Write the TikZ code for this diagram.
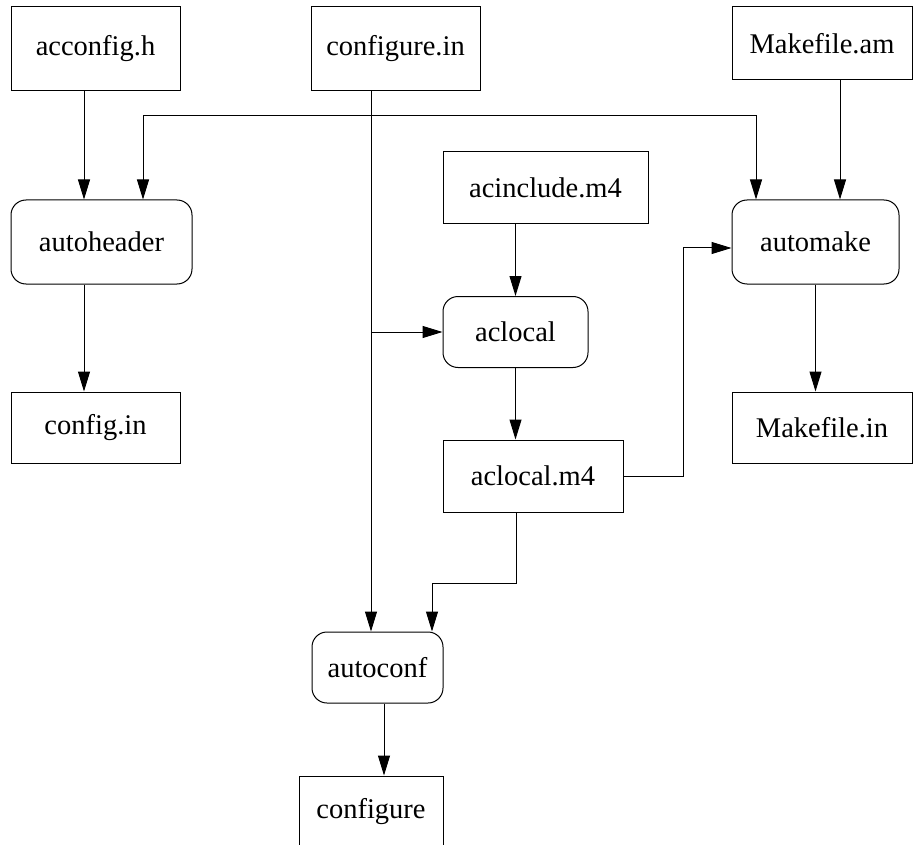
\documentclass[tikz,border=0pt]{standalone}
\usepackage{fontspec}
\setmainfont{Liberation Serif}
\usetikzlibrary{arrows.meta}
\tikzset{
  filebox/.style={draw, line width=1pt, inner sep=0pt, font=\fontsize{28.5}{34}\selectfont},
  toolbox/.style={filebox, rounded corners=15pt},
  arr/.style={line width=1pt, -{Triangle[length=20pt,width=12pt]}},
  ln/.style={line width=1pt}
}
\begin{document}
\begin{tikzpicture}[x=1pt,y=-1pt]
\useasboundingbox (0,0) rectangle (913,845);
\node[filebox, minimum width=169pt, minimum height=84pt] (acconfig) at (95.5,49) {acconfig.h};
\node[filebox, minimum width=169pt, minimum height=84pt] (configin) at (395.5,49) {configure.in};
\node[filebox, minimum width=180pt, minimum height=73pt] (makeam) at (822,43.5) {Makefile.am};
\node[toolbox, minimum width=181pt, minimum height=84pt] (autoheader) at (101.5,242) {autoheader};
\node[filebox, minimum width=205pt, minimum height=72pt] (acinclude) at (545.5,188) {acinclude.m4};
\node[toolbox, minimum width=167pt, minimum height=84pt] (automake) at (815.5,242) {automake};
\node[toolbox, minimum width=145pt, minimum height=71pt] (aclocal) at (515.5,332) {aclocal};
\node[filebox, minimum width=169pt, minimum height=71pt] (configdotin) at (95.5,427.5) {config.in};
\node[filebox, minimum width=180pt, minimum height=71pt] (makein) at (822,427.5) {Makefile.in};
\node[filebox, minimum width=180pt, minimum height=72pt] (aclocalm4) at (533,476) {aclocal.m4};
\node[toolbox, minimum width=131pt, minimum height=71pt] (autoconf) at (377.5,667.5) {autoconf};
\node[filebox, minimum width=144pt, minimum height=72pt] (configure) at (371,812) {configure};
% column / junction coordinates
\coordinate (xA) at (84,0);
\coordinate (xB) at (143,0);
\coordinate (xC) at (371,0);
\coordinate (xE) at (756,0);
\coordinate (xF) at (840,0);
\coordinate (xH) at (683,0);
\coordinate (xI) at (432,0);
\coordinate (xJ) at (384,0);
\coordinate (xD) at (516,0);
\coordinate (jtop) at (371,116);
\coordinate (jmid) at (xC |- aclocal.west);
\coordinate (jlow) at (516,583);
\coordinate (amin) at ([yshift=-6pt]automake.west);
% edges
\draw[arr] (acconfig.south -| xA) -- (autoheader.north -| xA);
\draw[arr] (autoheader.south -| xA) -- (configdotin.north -| xA);
\draw[arr] (configin.south -| xC) -- (autoconf.north -| xC);
\draw[arr] (jtop) -| (autoheader.north -| xB);
\draw[arr] (jtop) -| (automake.north -| xE);
\draw[arr] (jmid) -- (aclocal.west);
\draw[arr] (acinclude.south -| aclocal.north) -- (aclocal.north);
\draw[arr] (aclocal.south) -- (aclocalm4.north -| aclocal.south);
\draw[arr] (aclocalm4.east) -- (aclocalm4.east -| xH) -- (xH |- amin) -- (amin);
\draw[arr] (aclocalm4.south -| xD) -- (jlow) -- (jlow -| xI) -- (autoconf.north -| xI);
\draw[arr] (makeam.south -| xF) -- (automake.north -| xF);
\draw[arr] (automake.south) -- (makein.north -| automake.south);
\draw[arr] (autoconf.south -| xJ) -- (configure.north -| xJ);
\end{tikzpicture}
\end{document}
